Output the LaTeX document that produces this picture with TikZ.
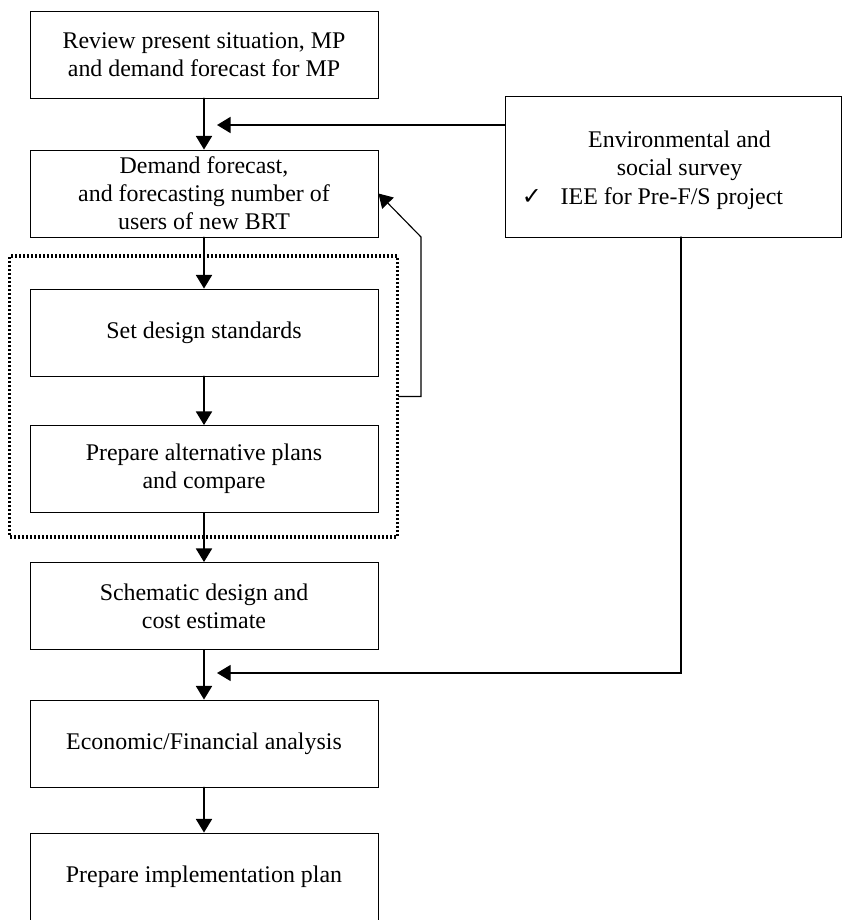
\documentclass[tikz,border=0pt]{standalone}
\usepackage{fontspec}
\setmainfont{Liberation Serif}
\newfontfamily\symfont{DejaVu Sans}
\usepackage{tikz}
\usetikzlibrary{arrows.meta}
\def\px{0.025cm}

\begin{document}
\begin{tikzpicture}[x=\px, y=-\px, line cap = round,
	box/.style={draw, line width=0.6pt, minimum width=8.7cm, minimum height=2.175cm, inner sep=0pt, align=center, font=\fontsize{17}{20}\selectfont},
	flow/.style={line width=1.3pt, -{Triangle[length=0.34cm, width=0.4cm]}},
	group/.style={draw, line width=2.2pt, dash pattern=on 0.05cm off 0.05cm, line cap=butt, minimum width=9.675cm, minimum height=7.025cm, inner sep=0pt}]

	\useasboundingbox (0,0) rectangle (843,920);

	\node[box] (review) at (204,54.5) {Review present situation, MP\\and demand forecast for MP};
	\node[box] (demand) at (204,193.5) {Demand forecast,\\and forecasting number of\\users of new BRT};
	\node[group] (designgroup) at (203.5,396.5) {};
	\node[box] (standards) at (204,332.5) {Set design standards};
	\node[box] (alternatives) at (204,469) {Prepare alternative plans\\and compare};
	\node[box] (schematic) at (204,606) {Schematic design and\\cost estimate};
	\node[box] (economic) at (204,743.5) {Economic/Financial analysis};
	\node[box] (implementation) at (204,876.5) {Prepare implementation plan};

	\node[box, minimum width=8.4cm, minimum height=3.525cm] (env) at (673.5,166.5) {\rule{0pt}{0.6cm}\hspace*{0.3cm}Environmental and\\\hspace*{0.3cm}social survey\\{\symfont ✓}\hspace{0.47cm}IEE for Pre-F/S project\hspace*{1.05cm}};

	\coordinate (envin) at (217,125);
	\coordinate (envdrop) at (681,237);
	\coordinate (envout) at (217,673);
	\coordinate (backup) at (421,237);

	\draw[flow] (review) -- (demand);
	\draw[flow] (demand) -- (standards);
	\draw[flow] (standards) -- (alternatives);
	\draw[flow] (alternatives) -- (schematic);
	\draw[flow] (schematic) -- (economic);
	\draw[flow] (economic) -- (implementation);

	\draw[flow] (env.west |- envin) -- (envin);
	\draw[flow, line width=0.8pt] (envdrop) |- (envout);
	\draw[flow, line width=0.8pt] (designgroup.east) -| (backup) -- (demand.east);

\end{tikzpicture}
\end{document}
